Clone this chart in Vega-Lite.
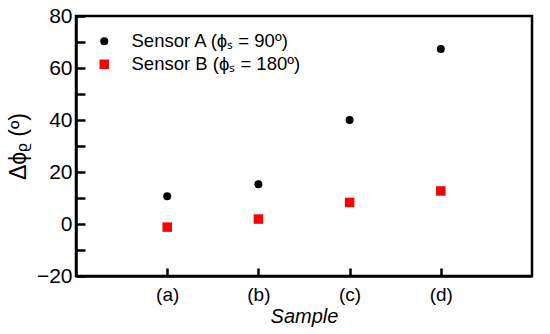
{
  "$schema": "https://vega.github.io/schema/vega-lite/v6.json",
  "autosize": {"type": "none"},
  "padding": {"left": 76, "top": 16, "right": 18, "bottom": 58},
  "width": 456,
  "height": 260,
  "background": "white",
  "config": {
    "font": "Liberation Sans",
    "view": {"stroke": "black", "strokeWidth": 2.5},
    "axis": {"grid": false, "domainColor": "black", "domainWidth": 2.5, "tickColor": "black", "tickWidth": 2.5, "labelColor": "black", "titleColor": "black", "labelFont": "Liberation Sans", "titleFont": "Liberation Sans", "titleFontWeight": "normal"}
  },
  "data": {
    "values": [
      {"sample": "(a)", "sensor": "Sensor A (ϕₛ = 90º)", "value": 10.7},
      {"sample": "(b)", "sensor": "Sensor A (ϕₛ = 90º)", "value": 15.3},
      {"sample": "(c)", "sensor": "Sensor A (ϕₛ = 90º)", "value": 40},
      {"sample": "(d)", "sensor": "Sensor A (ϕₛ = 90º)", "value": 67.3},
      {"sample": "(a)", "sensor": "Sensor B (ϕₛ = 180º)", "value": -1.2},
      {"sample": "(b)", "sensor": "Sensor B (ϕₛ = 180º)", "value": 1.9},
      {"sample": "(c)", "sensor": "Sensor B (ϕₛ = 180º)", "value": 8.3},
      {"sample": "(d)", "sensor": "Sensor B (ϕₛ = 180º)", "value": 12.7}
    ]
  },
  "mark": {"type": "point", "filled": true, "opacity": 1},
  "encoding": {
    "x": {
      "field": "sample", "type": "ordinal",
      "scale": {"type": "point", "padding": 1},
      "axis": {"title": "Sample", "titleFontStyle": "italic", "titleFontSize": 20, "labelFontSize": 19, "labelAngle": 0, "tickSize": -8, "labelPadding": 17, "titlePadding": 2}
    },
    "y": {
      "field": "value", "type": "quantitative",
      "scale": {"domain": [-20, 80], "nice": false},
      "axis": {"title": "Δϕᵨ (º)", "titleFontSize": 23, "labelFontSize": 21, "values": [-20, -10, 0, 10, 20, 30, 40, 50, 60, 70, 80], "labelExpr": "datum.value % 20 === 0 ? datum.label : ''", "tickSize": -9, "labelPadding": 13, "titlePadding": 6}
    },
    "color": {
      "field": "sensor", "type": "nominal",
      "scale": {"range": ["black", "#ff0000"]},
      "legend": {"title": null, "orient": "none", "legendX": 19, "legendY": 16, "labelFontSize": 18.5, "labelColor": "black", "labelLimit": 400, "rowPadding": 4, "symbolOffset": 0, "labelOffset": 18}
    },
    "shape": {
      "field": "sensor", "type": "nominal",
      "scale": {"range": ["circle", "square"]},
      "legend": null
    },
    "size": {
      "field": "sensor", "type": "nominal",
      "scale": {"range": [64, 90]},
      "legend": null
    }
  }
}
